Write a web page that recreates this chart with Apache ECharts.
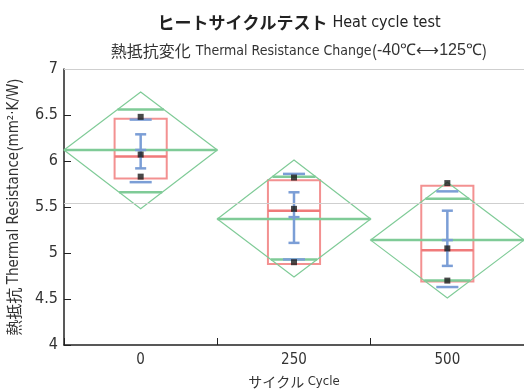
<!DOCTYPE html>
<html>
<head>
<meta charset="utf-8">
<script src="https://cdn.jsdelivr.net/npm/echarts@6/dist/echarts.min.js"></script>
<style>
  html, body { margin: 0; padding: 0; background: #fff; }
  #chart { width: 524px; height: 389px; }
</style>
</head>
<body>
<div id="chart"></div>
<script>
// Heat cycle test: thermal resistance per cycle count
const categories = ['0', '250', '500'];
const yTicks = [4, 4.5, 5, 5.5, 6, 6.5, 7];

// group means and their confidence diamonds
const means = [6.12, 5.37, 5.14];
const ciHigh = [6.75, 6.01, 5.77];
const ciLow = [5.48, 4.74, 4.51];
const overlapHigh = [6.56, 5.83, 5.59];
const overlapLow = [5.66, 4.93, 4.70];

// box plot quartiles
const boxQ3 = [6.46, 5.79, 5.73];
const boxMedian = [6.05, 5.46, 5.03];
const boxQ1 = [5.81, 4.88, 4.69];

// individual measurements
const points0 = [6.48, 6.07, 5.83];
const points250 = [5.82, 5.48, 4.90];
const points500 = [5.76, 5.05, 4.70];

// standard deviation marks and error bars
const sdHigh = [6.45, 5.86, 5.67];
const sdLow = [5.77, 4.93, 4.63];
const errHigh = [6.29, 5.66, 5.46];
const errMid = [6.12, 5.39, 5.14];
const errLow = [5.92, 5.11, 4.86];

const grandMean = 5.54;

const GREEN = '#7fcb97';
const RED = '#f07a7a';
const BLUE = '#7b9ed6';
const NARROW = '"DejaVu Sans Condensed", "Roboto", sans-serif';
const CJK = '"Noto Sans CJK JP", sans-serif';

const chart = echarts.init(document.getElementById('chart'), null, { renderer: 'canvas' });

function idxData(...arrays) {
  return categories.map((_, i) => [i, ...arrays.map(a => a[i])]);
}

const pointData = [];
[points0, points250, points500].forEach((arr, i) => arr.forEach(v => pointData.push([i, v])));

const option = {
  animation: false,
  backgroundColor: '#fff',
  title: [{
    left: 294, top: 9, textAlign: 'center',
    text: '{j|ヒートサイクルテスト} {e|Heat cycle test}',
    textStyle: {
      rich: {
        j: { fontFamily: CJK, fontWeight: 'bold', fontSize: 17, color: '#222' },
        e: { fontFamily: NARROW, fontWeight: 'normal', fontSize: 16, color: '#222' }
      }
    }
  }, {
    left: 294, top: 37, textAlign: 'center',
    text: '{j|熱抵抗変化} {e|Thermal Resistance Change}{j|(}{n|-40℃⟷125℃}{j|)}',
    textStyle: {
      rich: {
        j: { fontFamily: CJK, fontWeight: 'normal', fontSize: 16, color: '#333' },
        e: { fontFamily: NARROW, fontWeight: 'normal', fontSize: 14, color: '#333' },
        n: { fontFamily: '"Liberation Sans", sans-serif', fontWeight: 'normal', fontSize: 16, color: '#333' }
      }
    }
  }],
  grid: { left: 64, right: 0, top: 69, bottom: 44, outerBoundsMode: 'none', containLabel: false },
  xAxis: {
    type: 'category',
    data: categories,
    boundaryGap: true,
    axisLine: { lineStyle: { color: '#222', width: 1.5 } },
    axisTick: { show: true, inside: true, length: 7, lineStyle: { color: '#222' } },
    axisLabel: { fontFamily: NARROW, fontSize: 15, color: '#333', margin: 8 },
    name: '{j|サイクル} {e|Cycle}',
    nameLocation: 'middle',
    nameGap: 30,
    nameTextStyle: {
      rich: {
        j: { fontFamily: CJK, fontSize: 14, color: '#333' },
        e: { fontFamily: NARROW, fontSize: 13, color: '#333' }
      }
    }
  },
  yAxis: {
    type: 'value',
    min: yTicks[0], max: yTicks[yTicks.length - 1], interval: 0.5,
    axisLine: { show: true, lineStyle: { color: '#222', width: 1.5 } },
    axisTick: { show: true, inside: true, length: 7, lineStyle: { color: '#222' } },
    axisLabel: { fontFamily: NARROW, fontSize: 16, color: '#333', margin: 6,
      formatter: v => String(v) },
    splitLine: { show: false },
    name: '{j|熱抵抗} {e|Thermal Resistance}{j|(}{e|mm²·K/W}{j|)}',
    nameLocation: 'middle',
    nameGap: 42,
    nameRotate: 90,
    nameTextStyle: {
      rich: {
        j: { fontFamily: CJK, fontSize: 16, color: '#333' },
        e: { fontFamily: NARROW, fontSize: 15, color: '#333' }
      }
    }
  },
  series: [
    // reference lines: frame top and grand mean
    {
      type: 'line', data: [], silent: true,
      markLine: {
        silent: true, symbol: 'none', label: { show: false },
        lineStyle: { color: '#cfcfcf', width: 1, type: 'solid' },
        data: [{ yAxis: yTicks[yTicks.length - 1] }, { yAxis: grandMean }]
      }
    },
    // box plots
    {
      type: 'custom',
      data: idxData(boxQ3, boxMedian, boxQ1),
      renderItem: (params, api) => {
        const i = api.value(0);
        const band = api.size([1, 0])[0];
        const w = band * 0.34;
        const top = api.coord([i, api.value(1)]);
        const med = api.coord([i, api.value(2)]);
        const bot = api.coord([i, api.value(3)]);
        return {
          type: 'group', children: [
            { type: 'rect', shape: { x: top[0] - w / 2, y: top[1], width: w, height: bot[1] - top[1] },
              style: { fill: 'none', stroke: '#f39191', lineWidth: 2 } },
            { type: 'line', shape: { x1: med[0] - w / 2, y1: med[1], x2: med[0] + w / 2, y2: med[1] },
              style: { stroke: RED, lineWidth: 2.5 } }
          ]
        };
      }
    },
    // mean diamonds with overlap marks
    {
      type: 'custom',
      data: idxData(means, ciHigh, ciLow, overlapHigh, overlapLow),
      renderItem: (params, api) => {
        const i = api.value(0);
        const half = api.size([1, 0])[0] / 2;
        const c = api.coord([i, api.value(1)]);
        const t = api.coord([i, api.value(2)]);
        const b = api.coord([i, api.value(3)]);
        const oh = api.coord([i, api.value(4)]);
        const ol = api.coord([i, api.value(5)]);
        const wAt = (y, edge) => half * (1 - Math.abs(y - c[1]) / Math.abs(edge - c[1]));
        const w1 = wAt(oh[1], t[1]);
        const w2 = wAt(ol[1], b[1]);
        return {
          type: 'group', children: [
            { type: 'polygon', shape: { points: [[c[0], t[1]], [c[0] + half, c[1]], [c[0], b[1]], [c[0] - half, c[1]]] },
              style: { fill: 'none', stroke: GREEN, lineWidth: 1.2 } },
            { type: 'line', shape: { x1: c[0] - half, y1: c[1], x2: c[0] + half, y2: c[1] },
              style: { stroke: GREEN, lineWidth: 2.5 } },
            { type: 'line', shape: { x1: c[0] - w1, y1: oh[1], x2: c[0] + w1, y2: oh[1] },
              style: { stroke: GREEN, lineWidth: 2.5 } },
            { type: 'line', shape: { x1: c[0] - w2, y1: ol[1], x2: c[0] + w2, y2: ol[1] },
              style: { stroke: GREEN, lineWidth: 2.5 } }
          ]
        };
      }
    },
    // standard deviation marks and error bars
    {
      type: 'custom',
      data: idxData(sdHigh, sdLow, errHigh, errMid, errLow),
      renderItem: (params, api) => {
        const i = api.value(0);
        const band = api.size([1, 0])[0];
        const ws = band * 0.072;
        const we = band * 0.036;
        const sh = api.coord([i, api.value(1)]);
        const sl = api.coord([i, api.value(2)]);
        const eh = api.coord([i, api.value(3)]);
        const em = api.coord([i, api.value(4)]);
        const el = api.coord([i, api.value(5)]);
        const x = sh[0];
        const st = { stroke: BLUE, lineWidth: 2.5 };
        const hl = (p, w) => ({ type: 'line', shape: { x1: x - w, y1: p[1], x2: x + w, y2: p[1] }, style: st });
        return {
          type: 'group', children: [
            hl(sh, ws), hl(sl, ws),
            { type: 'line', shape: { x1: x, y1: eh[1], x2: x, y2: el[1] }, style: st },
            hl(eh, we), hl(em, we), hl(el, we)
          ]
        };
      }
    },
    // individual measurements
    {
      type: 'scatter',
      data: pointData,
      symbol: 'rect',
      symbolSize: 6,
      itemStyle: { color: '#1c1c1c' },
      z: 5
    }
  ]
};

chart.setOption(option);
</script>
</body>
</html>
